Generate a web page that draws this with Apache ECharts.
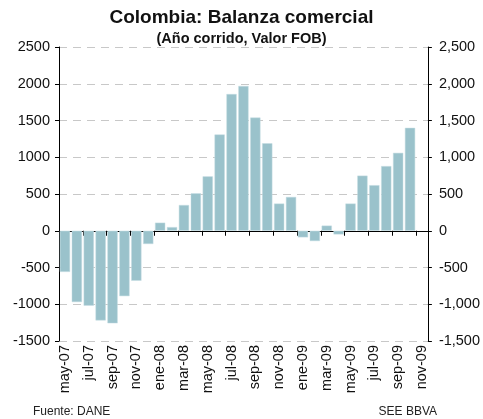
<!DOCTYPE html>
<html>
<head>
<meta charset="utf-8">
<script src="https://cdn.jsdelivr.net/npm/echarts@6/dist/echarts.min.js"></script>
<style>
  html, body { margin: 0; padding: 0; background: #fff; }
  #chart { width: 483px; height: 419px; }
</style>
</head>
<body>
<div id="chart"></div>
<script>
const months = [
  'may-07', 'jun-07', 'jul-07', 'ago-07', 'sep-07', 'oct-07', 'nov-07', 'dic-07',
  'ene-08', 'feb-08', 'mar-08', 'abr-08', 'may-08', 'jun-08', 'jul-08', 'ago-08',
  'sep-08', 'oct-08', 'nov-08', 'dic-08', 'ene-09', 'feb-09', 'mar-09', 'abr-09',
  'may-09', 'jun-09', 'jul-09', 'ago-09', 'sep-09', 'oct-09', 'nov-09'
];
// saldo acumulado, millones USD (nov-09 sin dato)
const balanza = [
  -560, -970, -1020, -1220, -1260, -890, -680, -180,
  110, 50, 350, 510, 740, 1310, 1860, 1970,
  1540, 1190, 370, 460, -90, -140, 70, -50,
  370, 750, 620, 880, 1060, 1400, null
];
const yTicks = { min: -1500, max: 2500, step: 500 };

const chart = echarts.init(document.getElementById('chart'));
const font = 'Liberation Sans';
const plain = v => String(v);
const withComma = v => {
  const s = Math.abs(v).toString().replace(/\B(?=(\d{3})+(?!\d))/g, ',');
  return (v < 0 ? '-' : '') + s;
};

chart.setOption({
  animation: false,
  textStyle: { fontFamily: font },
  title: [
    {
      text: 'Colombia: Balanza comercial',
      left: 'center',
      top: 8,
      padding: 0,
      textStyle: { fontSize: 19, fontWeight: 'bold', color: '#111', fontFamily: font }
    },
    {
      text: '(Año corrido, Valor FOB)',
      left: 'center',
      top: 31,
      padding: 0,
      textStyle: { fontSize: 14.5, fontWeight: 'bold', color: '#111', fontFamily: font }
    },
    {
      text: 'Fuente: DANE',
      left: 33,
      top: 406,
      padding: 0,
      textStyle: { fontSize: 12, fontWeight: 'normal', color: '#222', fontFamily: font }
    },
    {
      text: 'SEE BBVA',
      right: 46,
      top: 406,
      padding: 0,
      textStyle: { fontSize: 12, fontWeight: 'normal', color: '#222', fontFamily: font }
    }
  ],
  grid: { left: 59, right: 54, top: 47, bottom: 78 },
  xAxis: [
    {
      type: 'category',
      data: months,
      axisLine: { onZero: true, lineStyle: { color: '#000', width: 1 } },
      axisTick: { show: true, interval: 1, length: 5, lineStyle: { color: '#000' } },
      axisLabel: { show: false }
    },
    {
      type: 'category',
      data: months,
      position: 'bottom',
      axisLine: { show: false, onZero: false },
      axisTick: { show: false },
      axisLabel: {
        interval: 1,
        rotate: 90,
        fontSize: 14.5,
        color: '#111',
        margin: 4
      }
    }
  ],
  yAxis: [
    {
      type: 'value',
      min: yTicks.min,
      max: yTicks.max,
      interval: yTicks.step,
      position: 'left',
      axisLine: { show: true, lineStyle: { color: '#000' } },
      axisTick: { show: true, length: 4, lineStyle: { color: '#000' } },
      axisLabel: { fontSize: 14.5, color: '#111', margin: 9, formatter: plain },
      splitLine: { show: true, lineStyle: { color: '#c8c8c8', type: [8, 6] } }
    },
    {
      type: 'value',
      min: yTicks.min,
      max: yTicks.max,
      interval: yTicks.step,
      position: 'right',
      axisLine: { show: true, lineStyle: { color: '#000' } },
      axisTick: { show: true, length: 4, lineStyle: { color: '#000' } },
      axisLabel: { fontSize: 14.5, color: '#111', margin: 11, formatter: withComma },
      splitLine: { show: false }
    }
  ],
  series: [
    {
      type: 'bar',
      data: balanza,
      xAxisIndex: 0,
      yAxisIndex: 0,
      barCategoryGap: '14%',
      itemStyle: { color: '#9ac2cb', borderColor: '#c4dde2', borderWidth: 0.5 }
    }
  ]
});
</script>
</body>
</html>
